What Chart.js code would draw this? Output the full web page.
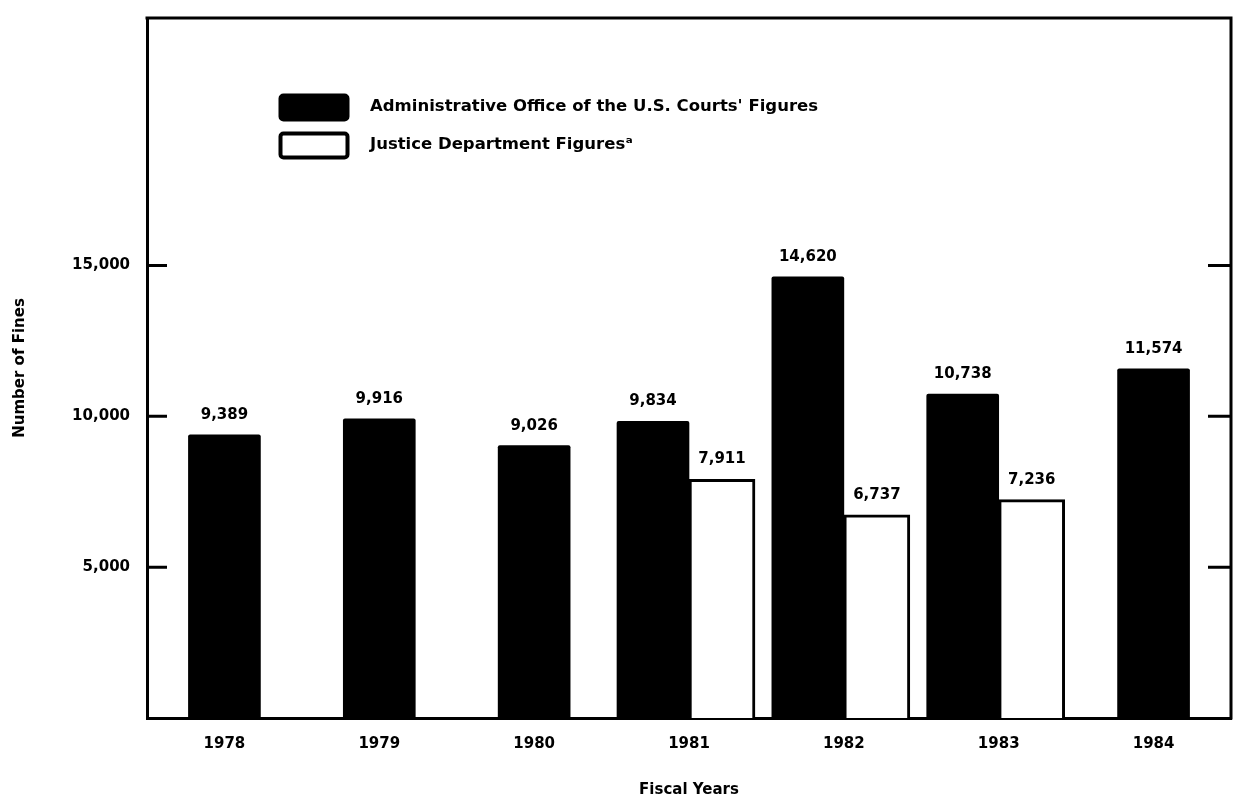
<!DOCTYPE html>
<html><head><meta charset="utf-8">
<script src="https://cdn.jsdelivr.net/npm/chart.js@4/dist/chart.umd.min.js"></script>
<style>html,body{margin:0;padding:0;background:#fff}#wrap{width:1241px;height:809px}</style>
</head><body><div id="wrap"><canvas id="c" width="1241" height="809"></canvas></div>
<script>
const years = ['1978', '1979', '1980', '1981', '1982', '1983', '1984'];
const adminOfficeFines = [9389, 9916, 9026, 9834, 14620, 10738, 11574];
const justiceDeptFines = [null, null, null, 7911, 6737, 7236, null];
const yTickValues = [5000, 10000, 15000];
const yMax = 23200;
const seriesLabels = ["Administrative Office of the U.S. Courts' Figures", "Justice Department Figures\u1D43"];
const xTitle = 'Fiscal Years';
const yTitle = 'Number of Fines';

const FONT = "'DejaVu Sans', sans-serif";
const fmt = v => v.toLocaleString('en-US');

const frameAndLabels = {
  id: 'frameAndLabels',
  afterDatasetsDraw(chart) {
    const ctx = chart.ctx;
    ctx.save();
    ctx.fillStyle = '#000';
    ctx.font = 'bold 15px ' + FONT;
    ctx.textAlign = 'center';
    ctx.textBaseline = 'middle';
    chart.data.datasets.forEach((ds, di) => {
      const meta = chart.getDatasetMeta(di);
      meta.data.forEach((el, i) => {
        const v = ds.data[i];
        if (v === null || v === undefined) return;
        ctx.fillText(fmt(v), el.x, el.y - 20);
      });
    });
    ctx.restore();
  },
  afterDraw(chart) {
    const ctx = chart.ctx;
    const ca = chart.chartArea;
    const ys = chart.scales.y;
    ctx.save();
    ctx.strokeStyle = '#000';
    ctx.lineWidth = 3;
    ctx.lineCap = 'square';
    // top and right frame
    ctx.beginPath();
    ctx.moveTo(ca.left, ca.top);
    ctx.lineTo(ca.right, ca.top);
    ctx.lineTo(ca.right, ca.bottom);
    ctx.stroke();
    // inward tick marks
    ctx.lineCap = 'butt';
    ys.ticks.forEach(t => {
      const y = ys.getPixelForValue(t.value);
      ctx.beginPath();
      ctx.moveTo(ca.left, y); ctx.lineTo(ca.left + 20, y);
      ctx.moveTo(ca.right, y); ctx.lineTo(ca.right - 23, y);
      ctx.stroke();
    });
    // legend
    const bx = ca.left + 132, bw = 70, bh = 27;
    const rows = [ca.top + 76, ca.top + 114];
    chart.data.datasets.forEach((ds, di) => {
      const y0 = rows[di];
      ctx.beginPath();
      ctx.roundRect(bx + 1.5, y0 + 1.5, bw - 3, bh - 3, 3);
      ctx.fillStyle = ds.backgroundColor;
      ctx.fill();
      ctx.lineWidth = 4;
      ctx.strokeStyle = '#000';
      ctx.stroke();
      ctx.fillStyle = '#000';
      ctx.font = 'bold 16.5px ' + FONT;
      ctx.textAlign = 'left';
      ctx.textBaseline = 'middle';
      ctx.fillText(ds.label, bx + 91, y0 + bh / 2 - 1);
    });
    ctx.restore();
  }
};

new Chart(document.getElementById('c'), {
  type: 'bar',
  data: {
    labels: years,
    datasets: [
      {
        label: seriesLabels[0],
        data: adminOfficeFines,
        backgroundColor: '#000',
        borderColor: '#000',
        borderWidth: 0,
        borderRadius: 2,
        barThickness: 72
      },
      {
        label: seriesLabels[1],
        data: justiceDeptFines,
        backgroundColor: '#fff',
        borderColor: '#000',
        borderWidth: 3,
        borderSkipped: 'bottom',
        barThickness: 66
      }
    ]
  },
  options: {
    responsive: false,
    animation: false,
    devicePixelRatio: 1,
    skipNull: true,
    layout: { padding: { top: 18, right: 10, left: 0, bottom: 0 } },
    plugins: { legend: { display: false }, tooltip: { enabled: false } },
    scales: {
      x: {
        offset: true,
        grid: { display: false, drawTicks: false },
        border: { display: true, color: '#000', width: 3 },
        ticks: { color: '#000', font: { family: FONT, size: 15, weight: 'bold' }, padding: 17, maxRotation: 0 },
        title: { display: true, text: xTitle, color: '#000', font: { family: FONT, size: 15, weight: 'bold' }, padding: { top: 0, bottom: 10 } },
        afterFit(s) { s.height = 91; s.paddingLeft = 0; s.paddingRight = 0; }
      },
      y: {
        min: 0,
        max: yMax,
        grid: { display: false, drawTicks: false },
        border: { display: true, color: '#000', width: 3 },
        afterBuildTicks(s) { s.ticks = yTickValues.map(v => ({ value: v })); },
        ticks: { color: '#000', font: { family: FONT, size: 15, weight: 'bold' }, padding: 17, callback: v => fmt(v) },
        title: { display: true, text: yTitle, color: '#000', font: { family: FONT, size: 15, weight: 'bold' }, padding: { top: 11, bottom: 0 } },
        afterFit(s) { s.width = 147; s.paddingTop = 0; s.paddingBottom = 0; }
      }
    }
  },
  plugins: [frameAndLabels]
});
</script>
</body></html>
